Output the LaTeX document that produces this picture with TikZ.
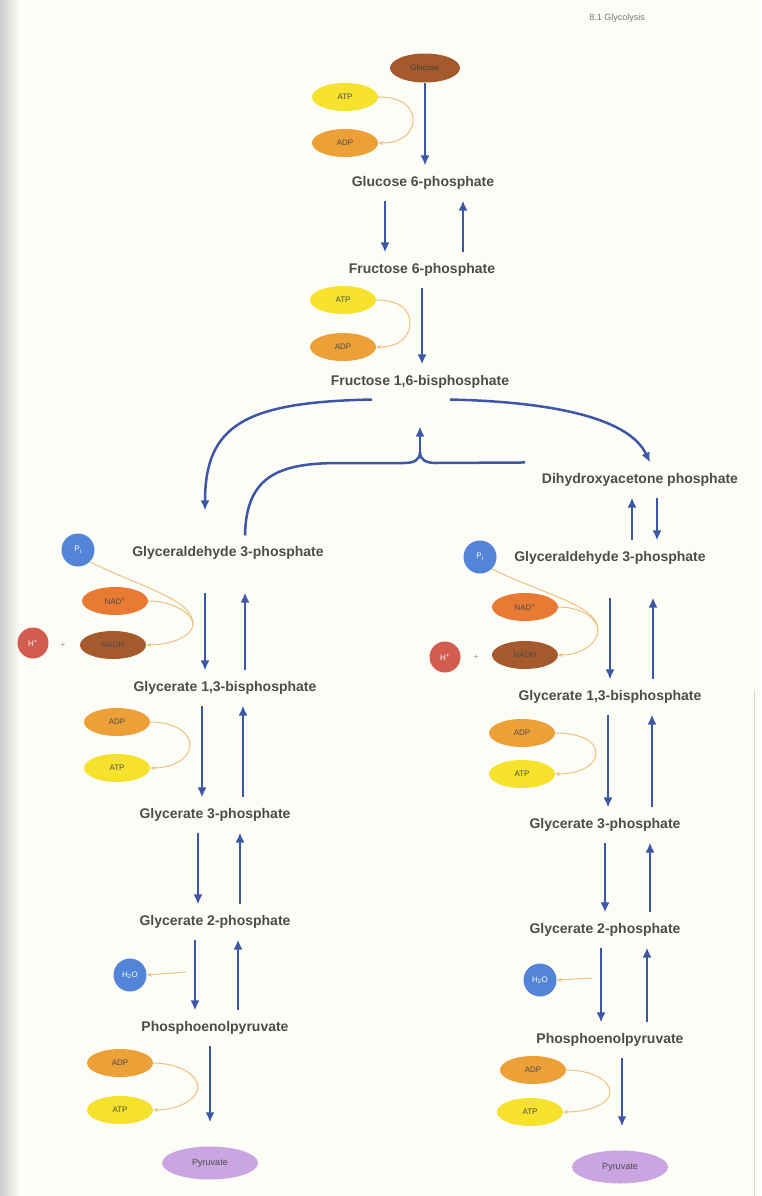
\documentclass[tikz,border=0pt]{standalone}
\usepackage{fontspec}
\setmainfont{Liberation Sans}
\usetikzlibrary{arrows.meta,shapes.geometric,calc}

\definecolor{bg}{RGB}{253,253,248}
\definecolor{brn}{RGB}{165,90,45}
\definecolor{atpY}{RGB}{246,226,45}
\definecolor{adpO}{RGB}{236,160,55}
\definecolor{nadO}{RGB}{232,122,52}
\definecolor{redC}{RGB}{212,92,78}
\definecolor{blueC}{RGB}{82,132,215}
\definecolor{pyrP}{RGB}{202,165,226}
\definecolor{cofL}{RGB}{236,192,125}
\definecolor{arrB}{RGB}{62,86,166}

\begin{document}
\begin{tikzpicture}[x=1pt,y=-1pt,
  txt/.style={font=\bfseries\fontsize{14}{16}\selectfont, text=black!70, inner sep=1pt, outer ysep=10pt},
  cofac/.style={ellipse, minimum width=66pt, minimum height=28pt, inner sep=0pt,
                font=\fontsize{8}{9}\selectfont, text=black!70},
  atp/.style={cofac, fill=atpY},
  adp/.style={cofac, fill=adpO},
  nadp/.style={cofac, fill=nadO},
  nadh/.style={cofac, fill=brn},
  ion/.style={circle, minimum size=33pt, inner sep=0pt, font=\fontsize{8}{9}\selectfont, text=white},
  pion/.style={ion, fill=blueC},
  hion/.style={ion, fill=redC, minimum size=31pt},
  pyr/.style={ellipse, fill=pyrP, minimum width=96pt, minimum height=33pt, inner sep=0pt,
              font=\fontsize{9}{10}\selectfont, text=black!70},
  rx/.style={draw=arrB, line width=2.5pt, -{Latex[length=10pt,width=9pt]}},
  rl/.style={draw=arrB, line width=2.5pt},
  cof/.style={draw=cofL, line width=1pt},
  cofa/.style={cof, -{Stealth[length=5pt,width=4pt]}},
  plus/.style={font=\fontsize{8}{9}\selectfont, text=black!45}
]
% page and binding shadow
\fill[bg] (0,0) rectangle (761,1196);
\useasboundingbox (0,0) rectangle (761,1196);
\shade[left color=black!20, right color=bg] (0,0) rectangle (20,1196);
\draw[black!15, line width=1pt] (754,690) -- (754,1196);

\node[font=\fontsize{9}{10}\selectfont, text=black!55] (hdr) at (617,18) {8.1 Glycolysis};

% ---------- hexose stage ----------
\node[ellipse, fill=brn, minimum width=70pt, minimum height=29pt, inner sep=0pt,
      font=\fontsize{8}{9}\selectfont, text=black!75] (glc) at (425,68) {Glucose};
\node[atp] (atp1) at (345,97) {ATP};
\node[adp] (adp1) at (345,143) {ADP};
\node[txt] (g6p) at (423,183) {Glucose 6-phosphate};
\coordinate (k1) at (413,120);
\draw[rx] (glc.south) -- ([xshift=2pt]g6p.north);
\draw[cof] (atp1.east) .. controls +(25,0) and +(0,-12) .. (k1);
\draw[cofa] (k1) .. controls +(0,12) and +(25,0) .. (adp1.east);

\node[txt] (f6p) at (422,270) {Fructose 6-phosphate};
\draw[rx] ([xshift=-38pt]g6p.south) -- ([xshift=-37pt]f6p.north);
\draw[rx] ([xshift=41pt]f6p.north) -- ([xshift=40pt]g6p.south);

\node[atp] (atp2) at (343,300) {ATP};
\node[adp] (adp2) at (343,347) {ADP};
\node[txt] (f16) at (420,382) {Fructose 1,6-bisphosphate};
\coordinate (k2) at (410,323);
\draw[rx] (f6p.south) -- ([xshift=2pt]f16.north);
\draw[cof] (atp2.east) .. controls +(25,0) and +(0,-12) .. (k2);
\draw[cofa] (k2) .. controls +(0,12) and +(25,0) .. (adp2.east);

% ---------- cleavage ----------
\node[txt] (dhap) at (640,480) {Dihydroxyacetone phosphate};
\node[txt] (g3pL) at (228,553) {Glyceraldehyde 3-phosphate};
\node[txt] (g3pR) at (610,558) {Glyceraldehyde 3-phosphate};

\draw[rx] ([xshift=-48pt]f16.south) .. controls (245,402) and (205,425) .. ([xshift=-23pt,yshift=25pt]g3pL.north);
\draw[rx] ([xshift=30pt]f16.south) .. controls (560,402) and (630,420) .. ([xshift=10pt]dhap.north);

\coordinate (J) at (420,452);
\draw[rl] ([xshift=17pt]g3pL.north) .. controls (246,475) and (280,463) .. (340,463)
          -- (404,463) .. controls (414,463) and (420,460) .. (J);
\draw[rl] ([xshift=-115pt]dhap.north) -- (436,463) .. controls (426,463) and (420,460) .. (J);
\draw[rx] (J) -- ([yshift=-27pt]f16.south);

\draw[rx] ([xshift=22pt]g3pR.north) -- ([xshift=-8pt]dhap.south);
\draw[rx] ([xshift=17pt]dhap.south) -- ([xshift=47pt]g3pR.north);

% ---------- left branch ----------
\node[pion] (piL) at (78,550) {P\textsubscript{i}};
\node[nadp] (nadL) at (115,601) {NAD\textsuperscript{+}};
\node[nadh] (nadhL) at (113,645) {NADH};
\node[hion] (hL) at (33,643) {H\textsuperscript{+}};
\node[plus] (plL) at (63,645) {+};
\node[txt] (g13L) at (225,688) {Glycerate 1,3-bisphosphate};
\coordinate (kB) at (193,624);
\draw[rx] ([xshift=-23pt,yshift=-22pt]g3pL.south) -- ([xshift=-20pt]g13L.north);
\draw[rx] ([xshift=20pt]g13L.north) -- ([xshift=17pt,yshift=-22pt]g3pL.south);
\draw[cof] (piL.south east) .. controls +(50,25) and +(0,-25) .. (kB);
\draw[cof] (nadL.east) .. controls +(25,0) and +(0,-10) .. (kB);
\draw[cofa] (kB) .. controls +(0,12) and +(25,0) .. (nadhL.east);

\node[adp] (adp3) at (117,722) {ADP};
\node[atp] (atp3) at (117,768) {ATP};
\node[txt] (g3L) at (215,815) {Glycerate 3-phosphate};
\coordinate (kC) at (190,745);
\draw[rx] ([xshift=-23pt]g13L.south) -- ([xshift=-13pt]g3L.north);
\draw[rx] ([xshift=28pt]g3L.north) -- ([xshift=18pt]g13L.south);
\draw[cof] (adp3.east) .. controls +(25,0) and +(0,-12) .. (kC);
\draw[cofa] (kC) .. controls +(0,12) and +(25,0) .. (atp3.east);

\node[txt] (g2L) at (215,922) {Glycerate 2-phosphate};
\draw[rx] ([xshift=-17pt]g3L.south) -- ([xshift=-17pt]g2L.north);
\draw[rx] ([xshift=25pt]g2L.north) -- ([xshift=25pt]g3L.south);

\node[pion] (h2oL) at (130,975) {H\textsubscript{2}O};
\node[txt] (pepL) at (215,1028) {Phosphoenolpyruvate};
\coordinate (kH) at (186,972);
\draw[rx] ([xshift=-20pt]g2L.south) -- ([xshift=-20pt]pepL.north);
\draw[rx] ([xshift=23pt]pepL.north) -- ([xshift=23pt]g2L.south);
\draw[cofa] (kH) -- (h2oL.east);

\node[adp] (adp4) at (120,1063) {ADP};
\node[atp] (atp4) at (120,1110) {ATP};
\node[pyr] (pyrL) at (210,1163) {Pyruvate};
\coordinate (kE) at (198,1087);
\draw[rx] ([xshift=-5pt]pepL.south) -- ([yshift=24pt]pyrL.north);
\draw[cof] (adp4.east) .. controls +(25,0) and +(0,-12) .. (kE);
\draw[cofa] (kE) .. controls +(0,12) and +(25,0) .. (atp4.east);

% ---------- right branch ----------
\node[pion] (piR) at (480,557) {P\textsubscript{i}};
\node[nadp] (nadR) at (525,607) {NAD\textsuperscript{+}};
\node[nadh] (nadhR) at (525,655) {NADH};
\node[hion] (hR) at (445,657) {H\textsuperscript{+}};
\node[plus] (plR) at (476,657) {+};
\node[txt] (g13R) at (610,697) {Glycerate 1,3-bisphosphate};
\coordinate (kB2) at (598,630);
\draw[rx] ([yshift=-22pt]g3pR.south) -- (g13R.north);
\draw[rx] ([xshift=43pt]g13R.north) -- ([xshift=43pt,yshift=-22pt]g3pR.south);
\draw[cof] (piR.south east) .. controls +(50,25) and +(0,-25) .. (kB2);
\draw[cof] (nadR.east) .. controls +(25,0) and +(0,-10) .. (kB2);
\draw[cofa] (kB2) .. controls +(0,12) and +(25,0) .. (nadhR.east);

\node[adp] (adp5) at (522,733) {ADP};
\node[atp] (atp5) at (522,774) {ATP};
\node[txt] (g3R) at (605,825) {Glycerate 3-phosphate};
\coordinate (kC2) at (596,753);
\draw[rx] ([xshift=-2pt]g13R.south) -- ([xshift=3pt]g3R.north);
\draw[rx] ([xshift=47pt]g3R.north) -- ([xshift=42pt]g13R.south);
\draw[cof] (adp5.east) .. controls +(25,0) and +(0,-12) .. (kC2);
\draw[cofa] (kC2) .. controls +(0,12) and +(25,0) .. (atp5.east);

\node[txt] (g2R) at (605,930) {Glycerate 2-phosphate};
\draw[rx] (g3R.south) -- (g2R.north);
\draw[rx] ([xshift=45pt]g2R.north) -- ([xshift=45pt]g3R.south);

\node[pion] (h2oR) at (540,980) {H\textsubscript{2}O};
\node[txt] (pepR) at (610,1040) {Phosphoenolpyruvate};
\coordinate (kH2) at (592,978);
\draw[rx] ([xshift=-4pt]g2R.south) -- ([xshift=-9pt]pepR.north);
\draw[rx] ([xshift=37pt]pepR.north) -- ([xshift=42pt]g2R.south);
\draw[cofa] (kH2) -- (h2oR.east);

\node[adp] (adp6) at (533,1070) {ADP};
\node[atp] (atp6) at (530,1112) {ATP};
\node[pyr] (pyrR) at (620,1167) {Pyruvate};
\coordinate (kE2) at (610,1092);
\draw[rx] ([xshift=12pt]pepR.south) -- ([xshift=2pt,yshift=24pt]pyrR.north);
\draw[cof] (adp6.east) .. controls +(25,0) and +(0,-12) .. (kE2);
\draw[cofa] (kE2) .. controls +(0,12) and +(25,0) .. (atp6.east);
\end{tikzpicture}
\end{document}
